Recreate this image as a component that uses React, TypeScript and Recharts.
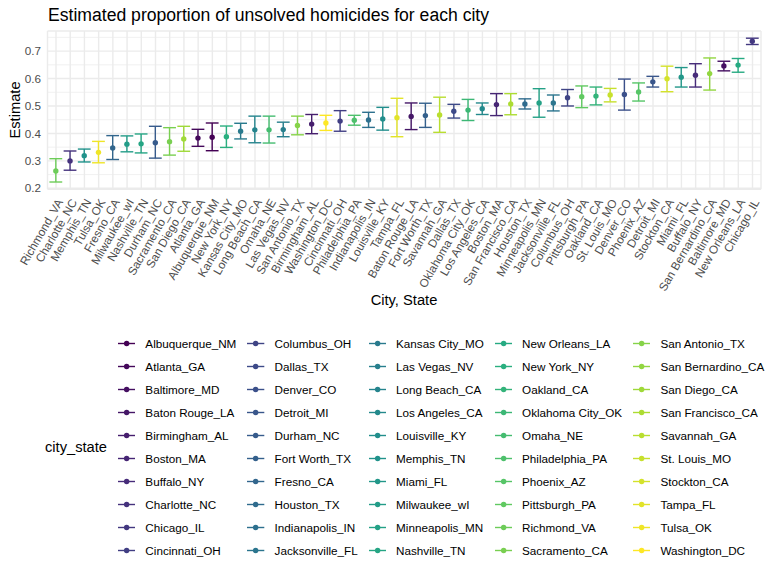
import { ComposedChart, Bar, XAxis, YAxis, CartesianGrid } from "recharts";

// cities in plotted order (sorted by estimate)
const cities = [
  "Richmond_VA", "Charlotte_NC", "Memphis_TN", "Tulsa_OK", "Fresno_CA",
  "Milwaukee_wI", "Nashville_TN", "Durham_NC", "Sacramento_CA", "San Diego_CA",
  "Atlanta_GA", "Albuquerque_NM", "New York_NY", "Kansas City_MO", "Long Beach_CA",
  "Omaha_NE", "Las Vegas_NV", "San Antonio_TX", "Birmingham_AL", "Washington_DC",
  "Cincinnati_OH", "Philadelphia_PA", "Indianapolis_IN", "Louisville_KY", "Tampa_FL",
  "Baton Rouge_LA", "Fort Worth_TX", "Savannah_GA", "Dallas_TX", "Oklahoma City_OK",
  "Los Angeles_CA", "Boston_MA", "San Francisco_CA", "Houston_TX", "Minneapolis_MN",
  "Jacksonville_FL", "Columbus_OH", "Pittsburgh_PA", "Oakland_CA", "St. Louis_MO",
  "Denver_CO", "Phoenix_AZ", "Detroit_MI", "Stockton_CA", "Miami_FL",
  "Buffalo_NY", "San Bernardino_CA", "Baltimore_MD", "New Orleans_LA", "Chicago_IL",
];

const estimates = [
  0.263, 0.300, 0.319, 0.331, 0.347, 0.361, 0.362, 0.366, 0.370, 0.380,
  0.383, 0.386, 0.388, 0.408, 0.413, 0.413, 0.414, 0.429, 0.434, 0.438,
  0.445, 0.448, 0.449, 0.453, 0.457, 0.462, 0.465, 0.467, 0.481, 0.485,
  0.490, 0.505, 0.507, 0.507, 0.511, 0.511, 0.530, 0.534, 0.536, 0.540,
  0.542, 0.551, 0.588, 0.599, 0.605, 0.612, 0.618, 0.646, 0.649, 0.736,
];

const lowerCI = [
  0.223, 0.266, 0.296, 0.293, 0.305, 0.333, 0.329, 0.310, 0.321, 0.335,
  0.353, 0.337, 0.349, 0.380, 0.366, 0.365, 0.388, 0.395, 0.399, 0.411,
  0.408, 0.430, 0.422, 0.412, 0.388, 0.414, 0.422, 0.404, 0.456, 0.447,
  0.469, 0.465, 0.468, 0.489, 0.459, 0.482, 0.500, 0.494, 0.504, 0.515,
  0.485, 0.518, 0.569, 0.552, 0.569, 0.569, 0.558, 0.628, 0.623, 0.724,
];

const upperCI = [
  0.308, 0.336, 0.343, 0.371, 0.392, 0.391, 0.398, 0.426, 0.421, 0.426,
  0.415, 0.438, 0.427, 0.437, 0.463, 0.463, 0.441, 0.463, 0.469, 0.466,
  0.483, 0.466, 0.477, 0.495, 0.528, 0.511, 0.510, 0.532, 0.506, 0.524,
  0.511, 0.545, 0.545, 0.526, 0.563, 0.540, 0.560, 0.573, 0.569, 0.564,
  0.598, 0.584, 0.608, 0.645, 0.640, 0.654, 0.675, 0.663, 0.673, 0.747,
];

const yTicks = [0.2, 0.3, 0.4, 0.5, 0.6, 0.7];
const yMinor = [0.25, 0.35, 0.45, 0.55, 0.65, 0.75];

const VIRIDIS = ["#440154", "#472D7B", "#3B528B", "#2C728E", "#21908C", "#27AD81", "#5DC863", "#AADC32", "#FDE725"];

function viridis(t: number) {
  const pos = t * (VIRIDIS.length - 1);
  const i = Math.min(Math.floor(pos), VIRIDIS.length - 2);
  const f = pos - i;
  const a = VIRIDIS[i], b = VIRIDIS[i + 1];
  const ch = (h: string, k: number) => parseInt(h.slice(1 + 2 * k, 3 + 2 * k), 16);
  const mix = [0, 1, 2].map((k) => Math.round(ch(a, k) + (ch(b, k) - ch(a, k)) * f));
  return `rgb(${mix.join(",")})`;
}

// colour levels follow alphabetical order, like the factor in the original
const legendOrder = [...cities].sort();
const colorOf: Record<string, string> = {};
legendOrder.forEach((c, i) => (colorOf[c] = viridis(i / (legendOrder.length - 1))));

const data = cities.map((c, i) => ({
  city: c,
  estimate: estimates[i],
  lower: lowerCI[i],
  upper: upperCI[i],
  color: colorOf[c],
}));

const FONT = '"Liberation Sans", Arial, Helvetica, sans-serif';

function ErrorMark(props: any) {
  const { x, y, width, height, payload } = props;
  const top = Math.min(y, y + height);
  const bot = Math.max(y, y + height);
  const cx = x + width / 2;
  const { lower, upper, estimate, color } = payload;
  const cy = top + ((bot - top) * (upper - estimate)) / (upper - lower);
  return (
    <g>
      <line x1={cx} x2={cx} y1={top} y2={bot} stroke={color} strokeWidth={1.4} />
      <line x1={cx - 6.4} x2={cx + 6.4} y1={top} y2={top} stroke={color} strokeWidth={1.4} />
      <line x1={cx - 6.4} x2={cx + 6.4} y1={bot} y2={bot} stroke={color} strokeWidth={1.4} />
      <circle cx={cx} cy={cy} r={2.7} fill={color} />
    </g>
  );
}

function CityTick(props: any) {
  const { x, y, payload } = props;
  return (
    <g transform={`translate(${x},${y + 6.6}) rotate(-60)`}>
      <text textAnchor="end" dy="0.72em" fontSize={11.7} fill="#4D4D4D" fontFamily={FONT}>
        {payload.value}
      </text>
    </g>
  );
}

function LegendBlock() {
  const cols = [0, 1, 2, 3, 4].map((k) => legendOrder.slice(k * 10, k * 10 + 10));
  return (
    <div
      style={{
        position: "absolute",
        left: 45,
        top: 331.8,
        display: "flex",
        alignItems: "center",
        fontFamily: FONT,
      }}
    >
      <div style={{ fontSize: 14.7, marginRight: 11 }}>city_state</div>
      {cols.map((col, ci) => (
        <div key={ci} style={{ display: "flex", flexDirection: "column", marginRight: 11 }}>
          {col.map((name) => (
            <div key={name} style={{ display: "flex", alignItems: "center", height: 23 }}>
              <svg width={17.3} height={23} style={{ display: "block" }}>
                <line x1={0} x2={17.3} y1={11.5} y2={11.5} stroke={colorOf[name]} strokeWidth={1.4} />
                <circle cx={8.65} cy={11.5} r={2.7} fill={colorOf[name]} />
              </svg>
              <span style={{ fontSize: 11.7, marginLeft: 10, whiteSpace: "nowrap" }}>{name}</span>
            </div>
          ))}
        </div>
      ))}
    </div>
  );
}

export default function App() {
  return (
    <div style={{ position: "relative", width: 768, height: 576, background: "#fff", fontFamily: FONT }}>
      <style>{"body{margin:0}"}</style>
      <div style={{ position: "absolute", left: 48, top: 5, fontSize: 17.6, lineHeight: "20px", color: "#000" }}>
        Estimated proportion of unsolved homicides for each city
      </div>
      <ComposedChart
        width={768}
        height={576}
        data={data}
        margin={{ top: 31, right: 7, bottom: 266.8, left: 7.5 }}
      >
        <CartesianGrid stroke="#EBEBEB" strokeWidth={0.7} vertical={false} horizontalValues={yMinor} />
        <CartesianGrid stroke="#EBEBEB" strokeWidth={1.4} />
        <XAxis
          dataKey="city"
          type="category"
          interval={0}
          height={120}
          axisLine={false}
          tickLine={false}
          tickSize={0}
          padding={{ left: 1.4, right: 1.4 }}
          tick={<CityTick />}
        />
        <YAxis
          type="number"
          width={40}
          domain={[0.1968, 0.7732]}
          ticks={yTicks}
          tickFormatter={(v: number) => v.toFixed(1)}
          axisLine={false}
          tickLine={false}
          tickSize={0}
          tickMargin={6.6}
          tick={{ fontSize: 11.7, fill: "#4D4D4D", fontFamily: FONT }}
        />
        <Bar
          dataKey={(d: any) => [d.lower, d.upper]}
          shape={<ErrorMark />}
          isAnimationActive={false}
        />
      </ComposedChart>
      <div
        style={{
          position: "absolute",
          left: 5,
          top: 110,
          transform: "translate(-50%, -50%) rotate(-90deg)",
          marginLeft: 10,
          fontSize: 14.7,
          whiteSpace: "nowrap",
        }}
      >
        Estimate
      </div>
      <div
        style={{
          position: "absolute",
          left: 404,
          top: 300,
          transform: "translate(-50%, -50%)",
          fontSize: 14.7,
          whiteSpace: "nowrap",
        }}
      >
        City, State
      </div>
      <LegendBlock />
    </div>
  );
}
